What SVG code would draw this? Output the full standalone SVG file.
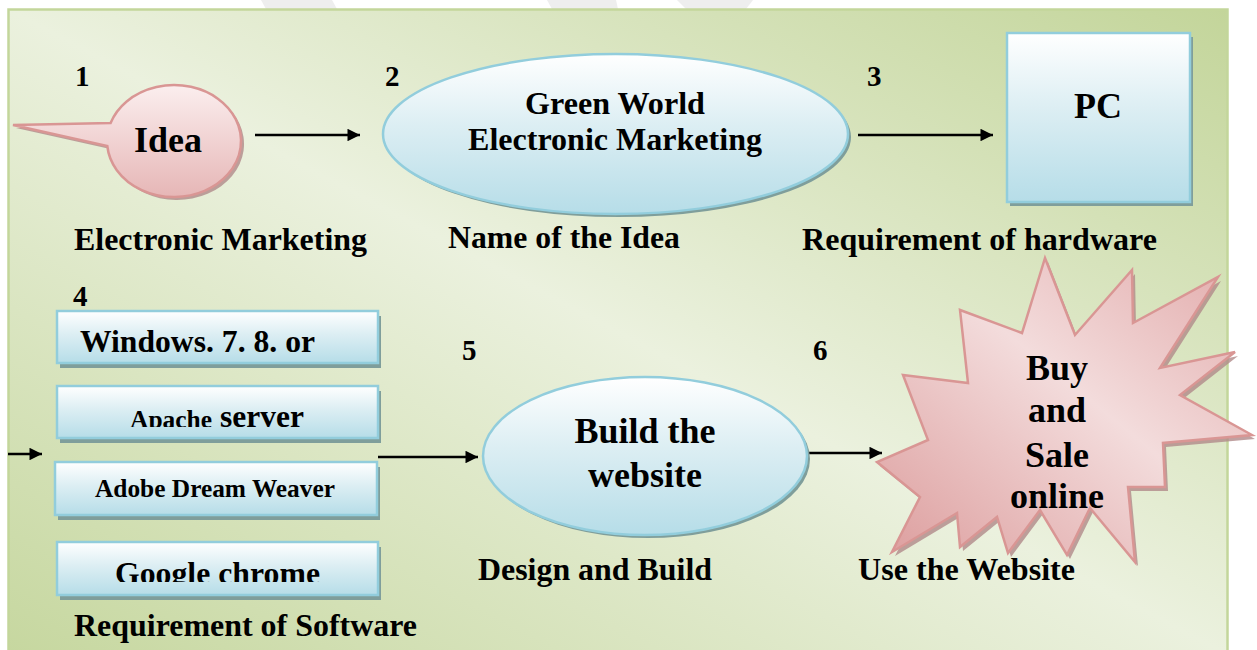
<svg xmlns="http://www.w3.org/2000/svg" width="1257" height="650" viewBox="0 0 1257 650" font-family="'Liberation Serif','Times New Roman',serif">
<style>
text{font-family:"Liberation Serif","Times New Roman",serif;font-weight:bold;fill:#000}
.num{font-size:29px}
.lbl{font-size:31px}
.big{font-size:36px;text-anchor:middle}
.mid{font-size:31px;text-anchor:middle}
.blue{fill:url(#gBlue);stroke:#92cddc;stroke-width:2.5}
.bshadow{fill:#7f9e9b}
.pink{fill:url(#gPink);stroke:#d99694;stroke-width:2.5}
.pshadow{fill:#b08a8a;opacity:0.8}
.conn line{stroke:#000;stroke-width:2.5}
</style>
<defs>
<linearGradient id="gBg" x1="1" y1="0" x2="0" y2="1">
<stop offset="0" stop-color="#c3d59a"/>
<stop offset="0.5" stop-color="#ebf1de"/>
<stop offset="1" stop-color="#c6d79f"/>
</linearGradient>
<linearGradient id="gBlue" x1="0" y1="0" x2="0" y2="1">
<stop offset="0" stop-color="#ffffff"/>
<stop offset="0.45" stop-color="#dceef3"/>
<stop offset="1" stop-color="#b6dde8"/>
</linearGradient>
<linearGradient id="gPink" x1="0" y1="0" x2="0" y2="1">
<stop offset="0" stop-color="#fbeeee"/>
<stop offset="1" stop-color="#e6b6b6"/>
</linearGradient>
<linearGradient id="gStar" x1="0" y1="1" x2="1" y2="0">
<stop offset="0" stop-color="#dc9c9c"/>
<stop offset="0.55" stop-color="#f3dcdc"/>
<stop offset="1" stop-color="#e2aaaa"/>
</linearGradient>
<marker id="ah" viewBox="0 0 10 10" refX="10" refY="5" markerWidth="5.5" markerHeight="5" markerUnits="strokeWidth" orient="auto">
<path d="M0,0 L10,5 L0,10 Z" fill="#000"/>
</marker>
<clipPath id="clip2"><rect x="57" y="386" width="321" height="41"/></clipPath>
<clipPath id="clip4"><rect x="57" y="542" width="321" height="40"/></clipPath>
</defs>

<rect x="0" y="0" width="1257" height="650" fill="#ffffff"/>
<g id="watermark" fill="#eeeeee">
<polygon points="261,0 332,0 337,9 266,9"/>
<polygon points="547,0 616,0 618,9 552,9"/>
<polygon points="677,0 753,0 746,9 686,9"/>
</g>
<rect id="background" x="8.5" y="9.5" width="1219" height="645" fill="url(#gBg)" stroke="#c3d69b" stroke-width="2.5"/>

<g id="connectors" class="conn">
<line x1="255" y1="135" x2="360" y2="135" marker-end="url(#ah)"/>
<line x1="858" y1="135" x2="993" y2="135" marker-end="url(#ah)"/>
<line x1="8" y1="454" x2="42" y2="454" marker-end="url(#ah)"/>
<line x1="378" y1="457" x2="478" y2="457" marker-end="url(#ah)"/>
<line x1="805" y1="453" x2="882" y2="453" marker-end="url(#ah)"/>
</g>

<g id="node1">
<path class="pshadow" transform="translate(3,3)" d="M13,125 L110.6,123 A67,56 0 1 1 107.3,146 Z"/>
<path class="pink" d="M13,125 L110.6,123 A67,56 0 1 1 107.3,146 Z"/>
<text class="big" x="168" y="152">Idea</text>
<text class="num" x="75" y="86">1</text>
<text class="lbl" x="74" y="250" textLength="293" lengthAdjust="spacingAndGlyphs">Electronic Marketing</text>
</g>

<g id="node2">
<ellipse class="bshadow" cx="618.5" cy="137" rx="232.5" ry="80"/>
<ellipse class="blue" cx="615.5" cy="134" rx="232.5" ry="80"/>
<text class="mid" x="615" y="114" textLength="180" lengthAdjust="spacingAndGlyphs">Green World</text>
<text class="mid" x="615" y="150" textLength="294" lengthAdjust="spacingAndGlyphs">Electronic Marketing</text>
<text class="num" x="385" y="86">2</text>
<text class="lbl" x="448" y="248" textLength="232" lengthAdjust="spacingAndGlyphs">Name of the Idea</text>
</g>

<g id="node3">
<rect class="bshadow" x="1010" y="37" width="183" height="169"/>
<rect class="blue" x="1007" y="33" width="183" height="169"/>
<text class="big" x="1098" y="118">PC</text>
<text class="num" x="867" y="86">3</text>
<text class="lbl" x="802" y="250" textLength="355" lengthAdjust="spacingAndGlyphs">Requirement of hardware</text>
</g>

<g id="node4">
<text class="num" x="73" y="306">4</text>
<g id="sw-windows">
<rect class="bshadow" x="60" y="316" width="321" height="52"/>
<rect class="blue" x="57" y="311" width="321" height="52"/>
<text class="lbl" x="80" y="352" textLength="235" lengthAdjust="spacingAndGlyphs">Windows. 7. 8. or</text>
</g>
<g id="sw-apache">
<rect class="bshadow" x="60" y="391" width="321" height="52"/>
<rect class="blue" x="57" y="386" width="321" height="52"/>
<g clip-path="url(#clip2)">
<text x="130" y="428" style="font-size:25px" textLength="82" lengthAdjust="spacingAndGlyphs">Apache</text>
<text class="lbl" x="220" y="427" textLength="84" lengthAdjust="spacingAndGlyphs">server</text>
</g>
</g>
<g id="sw-dreamweaver">
<rect class="bshadow" x="58" y="467" width="322" height="53"/>
<rect class="blue" x="55" y="462" width="322" height="53"/>
<text x="95" y="497" style="font-size:25px" textLength="240" lengthAdjust="spacingAndGlyphs">Adobe Dream Weaver</text>
</g>
<g id="sw-chrome">
<rect class="bshadow" x="60" y="547" width="321" height="53"/>
<rect class="blue" x="57" y="542" width="321" height="53"/>
<g clip-path="url(#clip4)">
<text class="lbl" x="115" y="584" textLength="205" lengthAdjust="spacingAndGlyphs">Google chrome</text>
</g>
</g>
<text class="lbl" x="74" y="636" textLength="343" lengthAdjust="spacingAndGlyphs">Requirement of Software</text>
</g>

<g id="node5">
<ellipse class="bshadow" cx="648" cy="459" rx="162" ry="79"/>
<ellipse class="blue" cx="645" cy="456" rx="162" ry="79"/>
<text class="big" x="645" y="443">Build the</text>
<text class="big" x="645" y="487">website</text>
<text class="num" x="462" y="360">5</text>
<text class="lbl" x="478" y="580" textLength="234" lengthAdjust="spacingAndGlyphs">Design and Build</text>
</g>

<g id="node6">
<polygon class="pshadow" transform="translate(3,4)" points="1045,258 1075,335 1132,270 1133,323 1218,277 1160,368 1235,352 1180,395 1252,435 1163,443 1165,487 1128,487 1135,562 1090,508 1067,555 1040,510 1008,553 997,517 960,547 957,513 892,552 920,497 877,462 928,440 903,375 968,383 960,310 1022,333"/>
<polygon fill="url(#gStar)" stroke="#d99694" stroke-width="2.5" stroke-linejoin="miter" points="1045,258 1075,335 1132,270 1133,323 1218,277 1160,368 1235,352 1180,395 1252,435 1163,443 1165,487 1128,487 1135,562 1090,508 1067,555 1040,510 1008,553 997,517 960,547 957,513 892,552 920,497 877,462 928,440 903,375 968,383 960,310 1022,333"/>
<text class="big" x="1057" y="380">Buy</text>
<text class="big" x="1057" y="422">and</text>
<text class="big" x="1057" y="467">Sale</text>
<text class="big" x="1057" y="508">online</text>
<text class="num" x="813" y="360">6</text>
<text class="lbl" x="858" y="580" textLength="217" lengthAdjust="spacingAndGlyphs">Use the Website</text>
</g>
</svg>
